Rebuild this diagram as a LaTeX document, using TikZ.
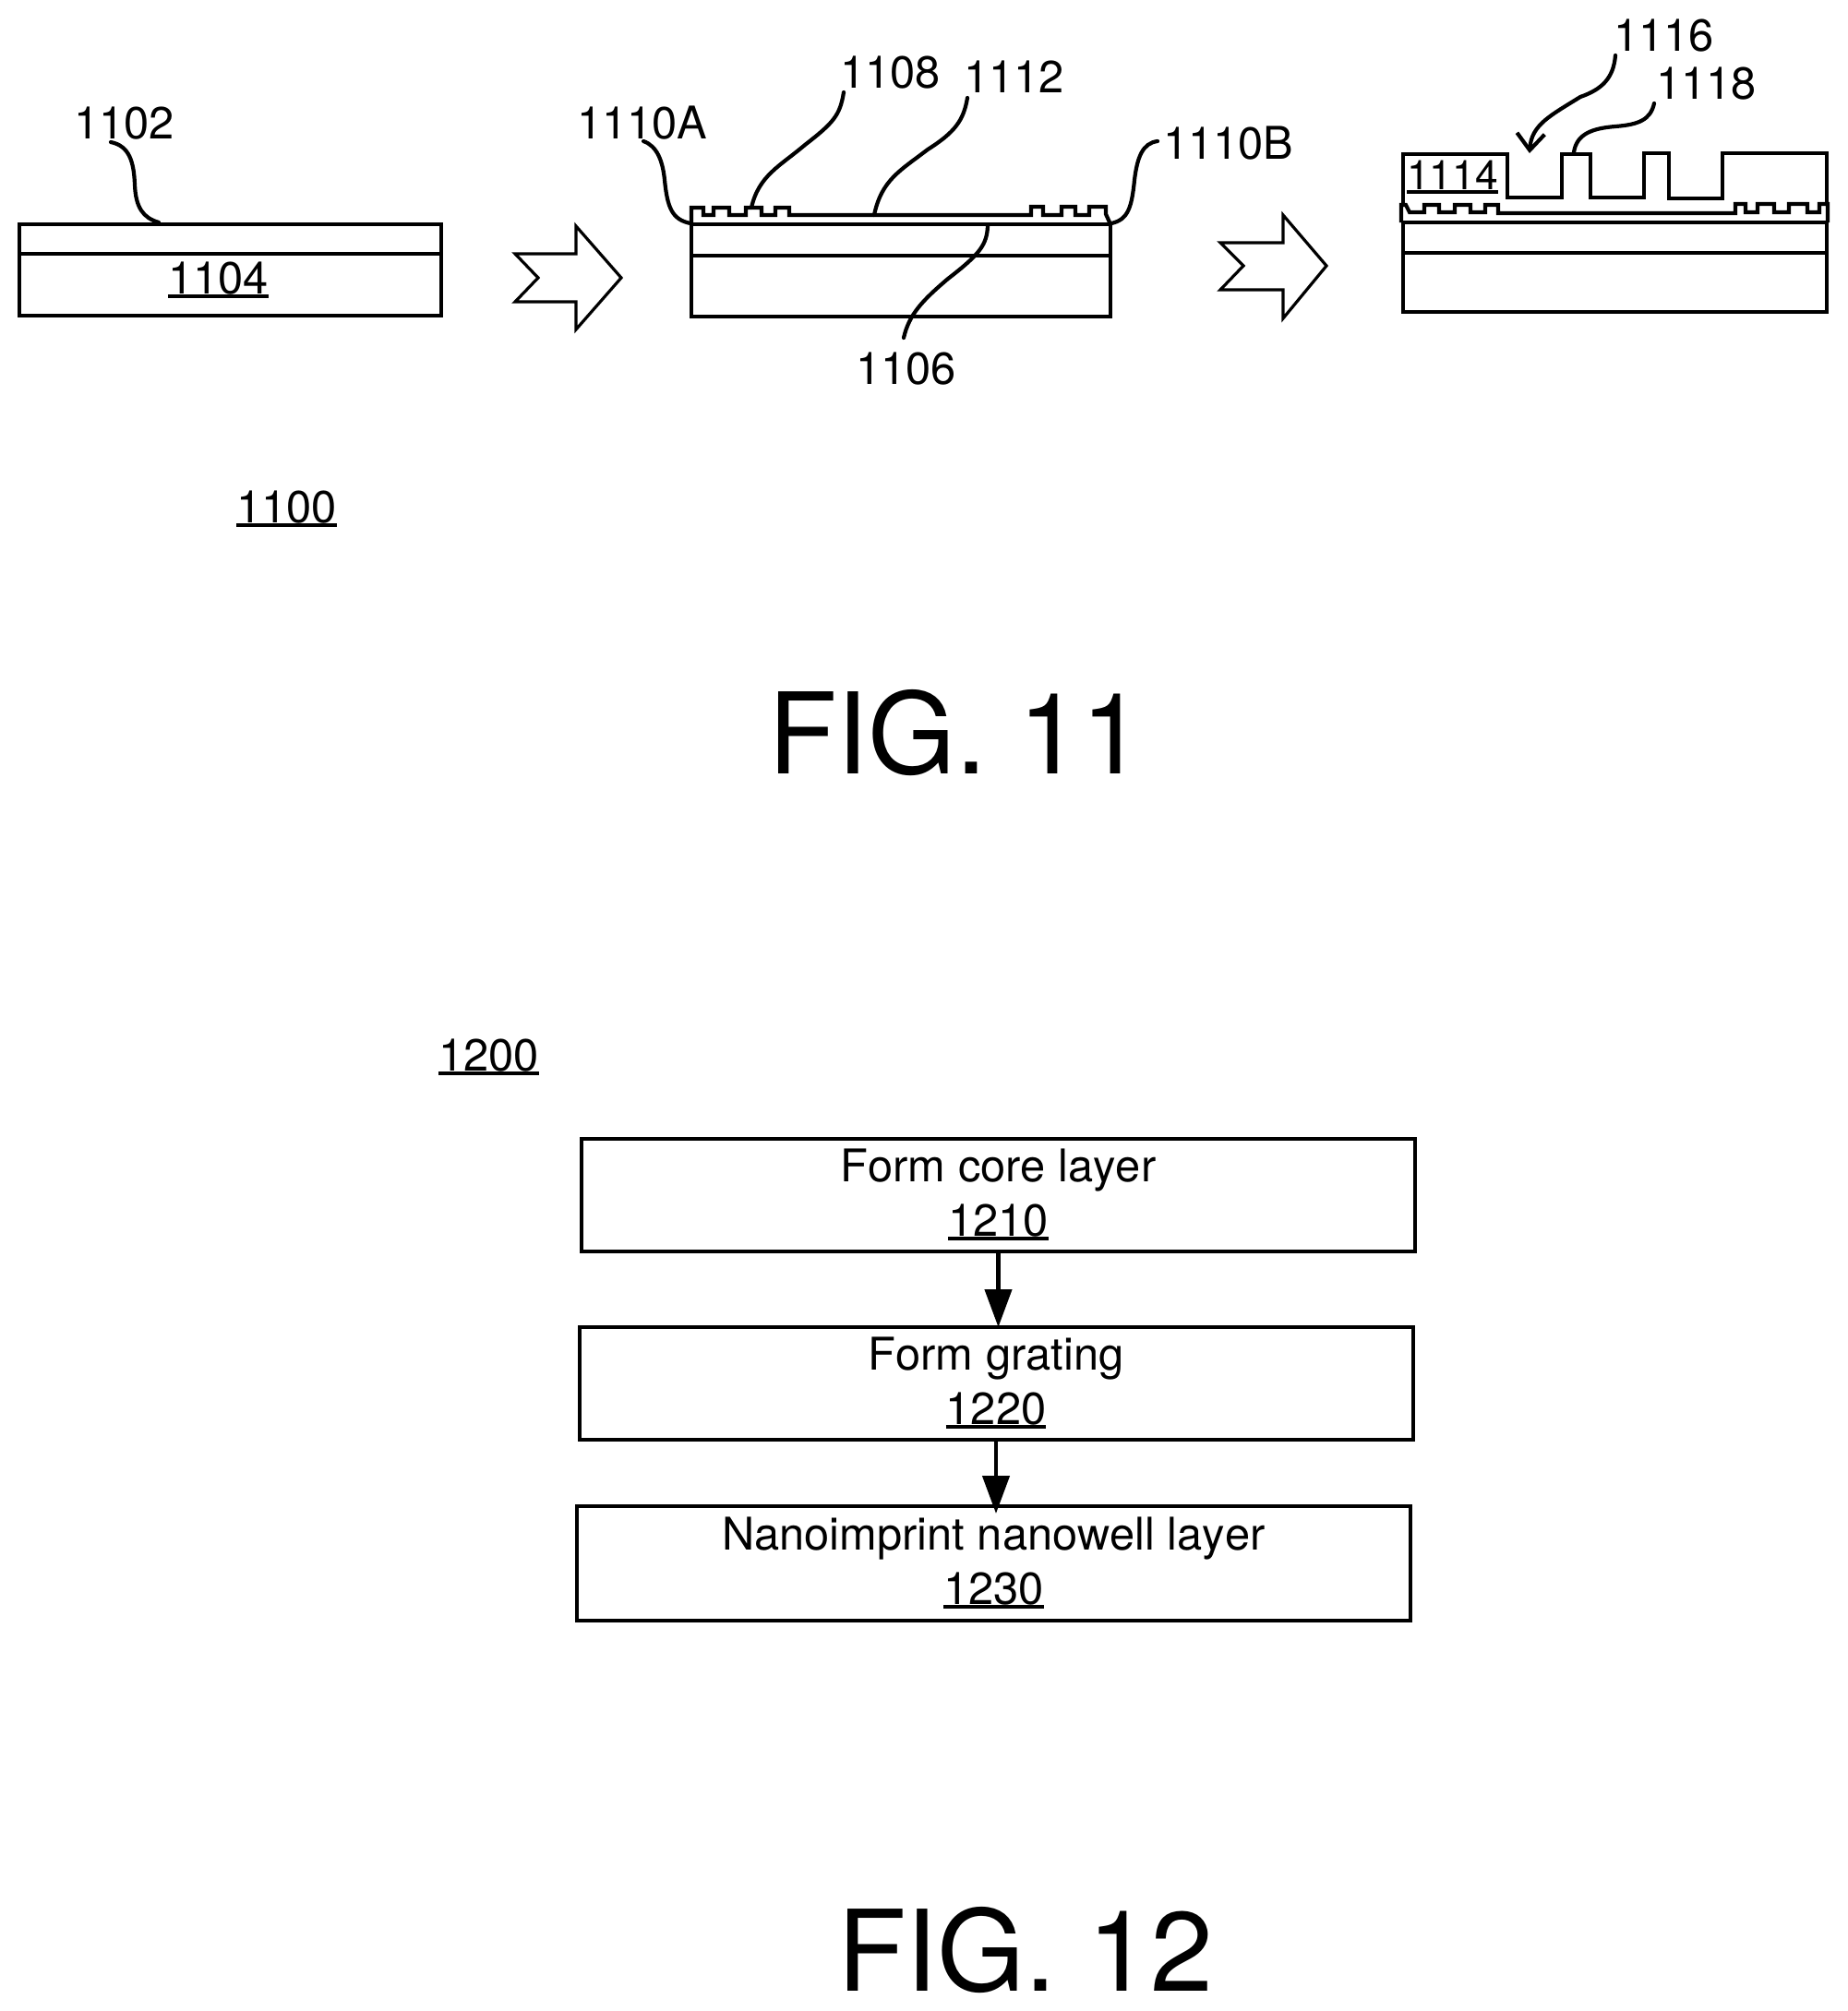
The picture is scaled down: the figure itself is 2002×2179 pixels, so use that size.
\documentclass[tikz,border=0pt]{standalone}
\usepackage{fontspec}
\setmainfont[Kerning=Off]{TeX Gyre Heros}
\usetikzlibrary{arrows.meta,calc}
\newcommand{\ulnum}[1]{\setbox0\hbox{#1}\rlap{\rule[-2.7pt]{\wd0}{2.4pt}}\box0\relax}
\tikzset{
  x=0.5pt,y=-0.5pt,
  lab/.style={anchor=base west,inner sep=0pt,outer sep=0pt,font=\fontsize{24.4pt}{30pt}\selectfont},
  smalllab/.style={lab,font=\fontsize{22.2pt}{26pt}\selectfont},
  figlab/.style={anchor=base west,inner sep=0pt,outer sep=0pt,font=\fontsize{61pt}{70pt}\selectfont},
  layer/.style={draw=black,line width=2pt,line join=miter},
  grating/.style={draw=black,line width=2.1pt,line join=miter},
  leader/.style={draw=black,line width=2.1pt,line cap=round},
  blockarrow/.style={draw=black,fill=white,line width=1.6pt,line join=miter},
  flowbox/.style={draw=black,line width=2pt,inner sep=0pt,outer sep=0pt,minimum width=451.5pt,minimum height=61pt,
    align=center,font=\fontsize{24.4pt}{29.5pt}\selectfont},
  flowarrow/.style={draw=black,line width=2.2pt,-{Triangle[length=20.5pt,width=14.5pt]}}
}
\newcommand{\flowtext}[2]{\rule{0pt}{20pt}#1\\#2\rule[-5.5pt]{0pt}{5.5pt}}
\begin{document}
\begin{tikzpicture}
\useasboundingbox (0,0) rectangle (2002,2179);

% ---------- FIG. 11, first stage ----------
\draw[layer] (21,243) rectangle (478,342);
\draw[layer] (21,275) -- (478,275);
\node[lab] (t1102) at (80,150) {1102};
\node[lab] (t1104) at (182,318) {\ulnum{1104}};
\coordinate (l1102a) at (120,154);
\coordinate (l1102b) at (172,241);
\draw[leader] (l1102a) .. controls (140,158) and (145,175) .. (146,200) .. controls (147,225) and (155,236) .. (l1102b);

\draw[blockarrow] (558,275) -- (624,275) -- (624,245) -- (673,301) -- (624,357) -- (624,327) -- (558,327) -- (583,301) -- cycle;

% ---------- FIG. 11, second stage ----------
\draw[layer] (749,243) rectangle (1203,343);
\draw[layer] (749,277) -- (1203,277);
\draw[grating] (749,243) -- (749,225) -- (762,225) -- (762,233) -- (773,233) -- (773,225) -- (790,225) -- (790,233)
  -- (808,233) -- (808,225) -- (825,225) -- (825,233) -- (840,233) -- (840,225) -- (855,225) -- (855,233)
  -- (1117,233) -- (1117,224) -- (1130,224) -- (1130,233) -- (1150,233) -- (1150,224) -- (1165,224) -- (1165,233)
  -- (1180,233) -- (1180,224) -- (1198,224) -- (1198,232) -- (1203,243);
\node[lab] (t1110A) at (625,150) {1110A};
\node[lab] (t1108) at (910,95) {1108};
\node[lab] (t1112) at (1044,100) {1112};
\node[lab] (t1110B) at (1260,172) {1110B};
\node[lab] (t1106) at (927,416) {1106};
\coordinate (lAa) at (697,153);
\coordinate (lAb) at (748,242);
\draw[leader] (lAa) .. controls (712,158) and (718,175) .. (720,195) .. controls (723,225) and (728,238) .. (lAb);
\coordinate (l8a) at (914,100);
\coordinate (l8b) at (814,225);
\draw[leader] (l8a) .. controls (910,125) and (903,133) .. (872,157) .. controls (845,180) and (822,190) .. (l8b);
\coordinate (l12a) at (1048,106);
\coordinate (l12b) at (947,233);
\draw[leader] (l12a) .. controls (1044,130) and (1035,143) .. (1005,162) .. controls (975,185) and (955,195) .. (l12b);
\coordinate (lBa) at (1254,153);
\coordinate (lBb) at (1204,242);
\draw[leader] (lBa) .. controls (1238,155) and (1232,170) .. (1229,195) .. controls (1226,225) and (1222,238) .. (lBb);
\coordinate (l6a) at (1070,245);
\coordinate (l6b) at (979,366);
\draw[leader] (l6a) .. controls (1069,265) and (1062,275) .. (1027,302) .. controls (1000,325) and (985,340) .. (l6b);

\draw[blockarrow] (1322,263) -- (1390,263) -- (1390,233) -- (1437,288) -- (1390,345) -- (1390,314) -- (1322,314) -- (1347,288) -- cycle;

% ---------- FIG. 11, third stage ----------
\draw[layer] (1520,241) rectangle (1979,338);
\draw[layer] (1520,274) -- (1979,274);
\draw[grating] (1518,241) -- (1518,222) -- (1523,222) -- (1527,230) -- (1543,230) -- (1543,222) -- (1559,222) -- (1559,230)
  -- (1576,230) -- (1576,222) -- (1593,222) -- (1593,230) -- (1609,230) -- (1609,222) -- (1623,222) -- (1623,231)
  -- (1880,231) -- (1880,221) -- (1891,221) -- (1891,230) -- (1904,230) -- (1904,221) -- (1922,221) -- (1922,230)
  -- (1938,230) -- (1938,221) -- (1958,221) -- (1958,230) -- (1971,230) -- (1971,221) -- (1980,221) -- (1980,241);
\draw[layer] (1520,222) -- (1520,167) -- (1633,167) -- (1633,214) -- (1692,214) -- (1692,167) -- (1723,167) -- (1723,214)
  -- (1781,214) -- (1781,166) -- (1808,166) -- (1808,215) -- (1866,215) -- (1866,166) -- (1979,166) -- (1979,221);
\node[smalllab] (t1114) at (1524,205) {\ulnum{1114}};
\node[lab] (t1116) at (1748,55) {1116};
\node[lab] (t1118) at (1794,107) {1118};
\coordinate (l16a) at (1750,60);
\coordinate (l16b) at (1657,166);
\draw[leader,-{Straight Barb[length=9pt,width=15pt]}] (l16a) .. controls (1748,85) and (1735,97) .. (1712,105) .. controls (1680,125) and (1659,135) .. (l16b);
\coordinate (l18a) at (1792,112);
\coordinate (l18b) at (1705,165);
\draw[leader] (l18a) .. controls (1788,130) and (1775,135) .. (1750,137) .. controls (1725,139) and (1708,145) .. (l18b);

% ---------- captions ----------
\node[lab] (t1100) at (256,566) {\ulnum{1100}};
\node[figlab] (fig11) at (832,838) {FIG. 11};
\node[lab] (t1200) at (475,1160) {\ulnum{1200}};
\node[figlab] (fig12) at (907,2157) {FIG. 12};

% ---------- FIG. 12 flow ----------
\node[flowbox] (b1) at (1081.5,1295) {\flowtext{Form core layer}{\ulnum{1210}}};
\node[flowbox] (b2) at (1079,1499) {\flowtext{Form grating}{\ulnum{1220}}};
\node[flowbox,minimum height=62pt] (b3) at (1076.5,1694) {\flowtext{Nanoimprint nanowell layer}{\ulnum{1230}}};
\draw[flowarrow] (b1.south) -- (b1.south |- b2.north);
\draw[flowarrow,shorten >=-4pt] (b2.south) -- (b2.south |- b3.north);
\end{tikzpicture}
\end{document}
